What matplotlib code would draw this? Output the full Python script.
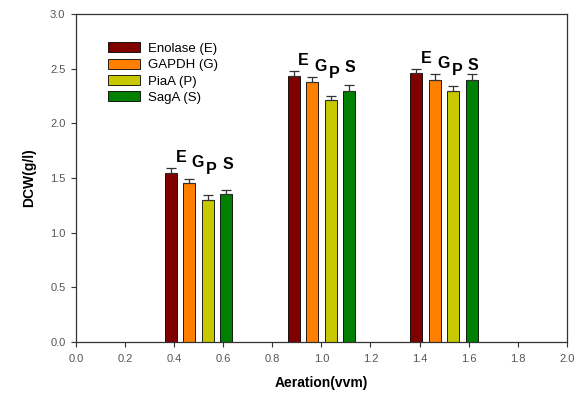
import numpy as np
import matplotlib
matplotlib.use("Agg")
import matplotlib.pyplot as plt

aeration = [0.5, 1.0, 1.5]
series_names = ["Enolase (E)", "GAPDH (G)", "PiaA (P)", "SagA (S)"]
letters = ["E", "G", "P", "S"]
colors = ["#800000", "#FF8000", "#C8C800", "#008000"]

enolase = [1.55, 2.43, 2.46]
gapdh = [1.455, 2.38, 2.40]
piaa = [1.30, 2.21, 2.30]
saga = [1.35, 2.30, 2.40]

enolase_err = [0.045, 0.05, 0.04]
gapdh_err = [0.04, 0.04, 0.05]
piaa_err = [0.045, 0.04, 0.04]
saga_err = [0.045, 0.05, 0.05]

x_ticks = [0.0, 0.2, 0.4, 0.6, 0.8, 1.0, 1.2, 1.4, 1.6, 1.8, 2.0]
y_ticks = [0.0, 0.5, 1.0, 1.5, 2.0, 2.5, 3.0]

values = [enolase, gapdh, piaa, saga]
errs = [enolase_err, gapdh_err, piaa_err, saga_err]

plt.rcParams['font.family'] = ['Liberation Sans', 'DejaVu Sans']

fig = plt.figure(figsize=(5.88, 3.97), dpi=100)
ax = fig.add_axes([0.129, 0.1385, 0.835, 0.826])

width = 0.049
spacing = 0.075
offsets = [-1.5 * spacing, -0.5 * spacing, 0.5 * spacing, 1.5 * spacing]
x = np.array(aeration)

for i in range(4):
    ax.bar(x + offsets[i], values[i], width=width, color=colors[i],
           edgecolor="black", linewidth=0.6, label=series_names[i], zorder=2)
    err = np.array(errs[i])
    ax.errorbar(x + offsets[i], values[i], yerr=[np.zeros_like(err), err],
                fmt="none", ecolor="#333333", elinewidth=0.9, capsize=3.5,
                capthick=0.9, zorder=3)

# letter labels above each group
lbl_dx = [0.04, 0.035, 0.016, 0.005]
lbl_dy = [0.095, 0.045, -0.02, 0.03]
for g in range(3):
    top = max(values[i][g] + errs[i][g] for i in range(4))
    for i in range(4):
        ax.text(x[g] + offsets[i] + lbl_dx[i], top + lbl_dy[i], letters[i],
                ha="center", va="center", fontsize=11.5, fontweight="bold",
                color="black")

ax.set_xlim(0, 2.0)
ax.set_ylim(0, 3.0)
ax.set_xticks(x_ticks)
ax.set_xticklabels([f"{t:.1f}" for t in x_ticks])
ax.set_yticks(y_ticks)
ax.set_yticklabels([f"{t:.1f}" for t in y_ticks])
ax.tick_params(axis="both", direction="out", length=3.5, width=0.8,
               labelsize=8, labelcolor="#555555", color="#333333")
ax.tick_params(axis="x", pad=5)
ax.tick_params(axis="y", pad=4)
for sp in ax.spines.values():
    sp.set_linewidth(0.9)
    sp.set_color("#333333")

ax.set_xlabel("Aeration(vvm)", fontsize=10, fontweight="bold", labelpad=9)
ax.set_ylabel("DCW(g/l)", fontsize=10, fontweight="bold", labelpad=10)

leg = ax.legend(loc="upper left", bbox_to_anchor=(0.055, 0.93), frameon=False,
                fontsize=9.5, handlelength=2.4, handleheight=0.8,
                labelspacing=0.28, handletextpad=0.6, borderaxespad=0)

fig.savefig("out.png", dpi=100)
